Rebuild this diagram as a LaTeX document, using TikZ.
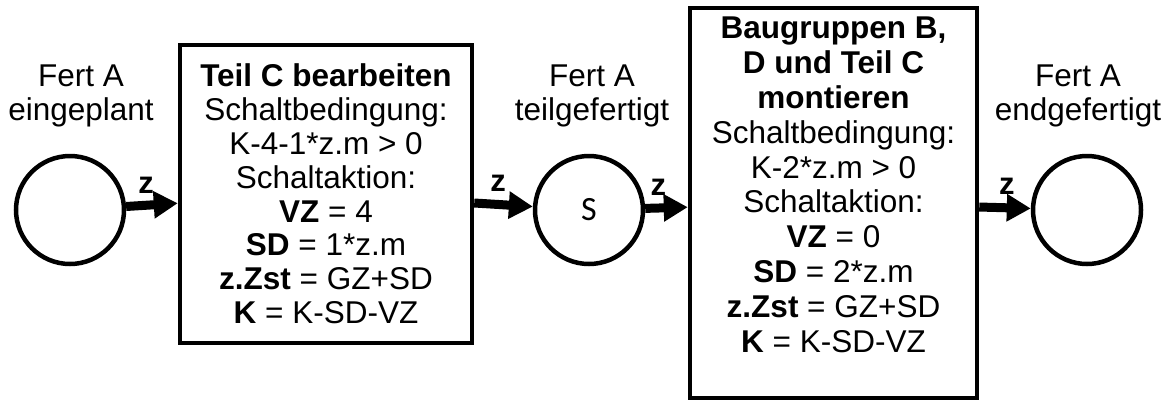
\documentclass[tikz,border=0pt]{standalone}
\usepackage{fontspec}
\setmainfont{Liberation Sans}
\newfontfamily\markfont{Carlito}
\usetikzlibrary{arrows.meta}

\begin{document}
\begin{tikzpicture}[
        x=1pt, y=-1pt,
        % common looks
        stelle/.style={
            circle, draw, line width=4.5pt,
            minimum size=108pt, inner sep=0pt
        },
        transition/.style={
            rectangle, draw, line width=4.5pt,
            align=center, inner sep=0pt,
            font=\fontsize{31.5}{#1}\selectfont
        },
        caption/.style={
            align=center, inner sep=0pt,
            font=\fontsize{31.5}{34}\selectfont
        },
        arr/.style={-{Triangle[length=24pt,width=26pt]}, line width=9pt},
        zlabel/.style={font=\fontsize{31}{31}\selectfont\bfseries, inner sep=0pt}
    ]
        \useasboundingbox (0,0) rectangle (1172,408);

        % places and transitions at direct coordinates
        \node[stelle] (eingeplant) at (70, 210) {};
        \node[transition=33.8, minimum width=292pt, minimum height=298pt] (bearbeiten) at (326, 194)
            {\textbf{Teil C bearbeiten}\\Schaltbedingung:\\K-4-1*z.m > 0\\Schaltaktion:\\
             \textbf{VZ} = 4\\\textbf{SD} = 1*z.m\\\textbf{z.Zst} = GZ+SD\\\textbf{K} = K-SD-VZ};
        \node[stelle] (teilgefertigt) at (589, 210) {\markfont\fontsize{34}{34}\selectfont S};
        \node[transition=34.8, minimum width=287pt, minimum height=390pt] (montieren) at (833.5, 203)
            {\textbf{Baugruppen B,}\\\textbf{D und Teil C}\\\textbf{montieren}\\Schaltbedingung:\\
             K-2*z.m > 0\\Schaltaktion:\\\textbf{VZ} = 0\\\textbf{SD} = 2*z.m\\
             \textbf{z.Zst} = GZ+SD\\\textbf{K} = K-SD-VZ\\[2pt]};
        \node[stelle] (endgefertigt) at (1087, 210) {};

        % place captions
        \node[caption] (capA) at (81, 96) {Fert A\\eingeplant};
        \node[caption] (capB) at (592, 96) {Fert A\\teilgefertigt};
        \node[caption] (capC) at (1078, 96) {Fert A\\endgefertigt};

        % arcs
        \draw[arr] (eingeplant) -- (bearbeiten)
            node[zlabel, above right, pos=0.15, yshift=8pt] {z};
        \draw[arr] (bearbeiten) -- (teilgefertigt)
            node[zlabel, above right, pos=0.2, yshift=8pt] {z};
        \draw[arr] (teilgefertigt) -- (montieren)
            node[zlabel, above right, pos=0.02, yshift=8pt] {z};
        \draw[arr] (montieren) -- (endgefertigt)
            node[zlabel, above right, pos=0.3, yshift=8pt] {z};

    \end{tikzpicture}
\end{document}
